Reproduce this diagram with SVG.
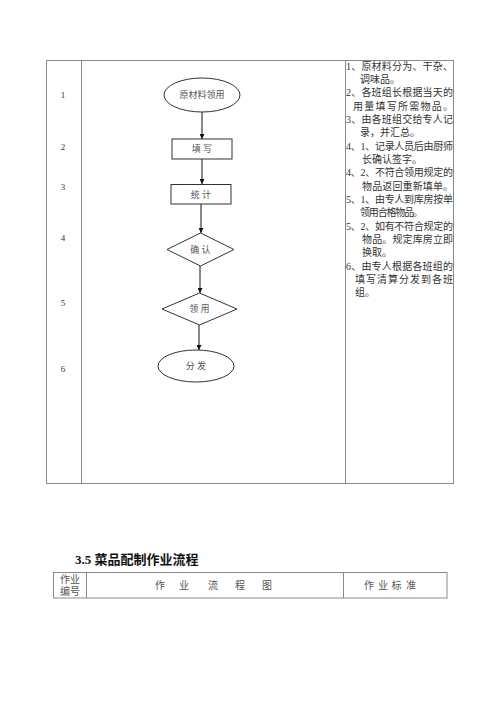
<svg xmlns="http://www.w3.org/2000/svg" width="500" height="707" viewBox="0 0 500 707">
<style>
.tb{fill:none;stroke:#8a8a8a;stroke-width:1}
.nd{fill:#fff;stroke:#333;stroke-width:1}
.nl{font-family:"Liberation Serif","Noto Sans CJK SC",serif;font-size:9px;fill:#555;text-anchor:middle}
.num{font-family:"Liberation Serif","Noto Sans CJK SC",serif;font-size:9px;fill:#333;text-anchor:middle}
.rt{font-family:"Liberation Serif","Noto Sans CJK SC",serif;font-size:10px;fill:#333}
.hd{font-family:"Liberation Serif","Noto Sans CJK SC",serif;font-size:10px;fill:#555;text-anchor:middle}
.ttl{font-family:"Liberation Serif","Noto Sans CJK SC",serif;font-size:13px;font-weight:bold;fill:#111}
.cn{stroke:#111;stroke-width:1;fill:none;marker-end:url(#ah)}
</style>
<defs>
<marker id="ah" viewBox="0 0 10 10" refX="10" refY="5" markerWidth="5" markerHeight="5" orient="auto" markerUnits="userSpaceOnUse">
<path d="M0,0 L10,5 L0,10 z" fill="#111"/>
</marker>
</defs>
<rect width="500" height="707" fill="#fff"/>
<g id="table1">
<rect class="tb" x="46.5" y="60.5" width="407" height="423"/>
<line class="tb" x1="81.5" y1="60.5" x2="81.5" y2="483.5"/>
<line class="tb" x1="345.5" y1="60.5" x2="345.5" y2="483.5"/>
<text class="num" x="63" y="98">1</text>
<text class="num" x="63" y="150">2</text>
<text class="num" x="63" y="190">3</text>
<text class="num" x="63" y="241">4</text>
<text class="num" x="63" y="306">5</text>
<text class="num" x="63" y="372">6</text>
</g>
<g id="connectors">
<line class="cn" x1="202" y1="112" x2="202" y2="139"/>
<line class="cn" x1="202" y1="159" x2="202" y2="184"/>
<line class="cn" x1="201" y1="204" x2="201" y2="233"/>
<line class="cn" x1="200" y1="266" x2="200" y2="293"/>
<line class="cn" x1="199" y1="325" x2="199" y2="350"/>
</g>
<g id="n1">
<ellipse class="nd" cx="202" cy="95" rx="38" ry="17"/>
<text class="nl" x="202" y="98">原材料领用</text>
</g>
<g id="n2">
<rect class="nd" x="172" y="139" width="60" height="20"/>
<text class="nl" x="202" y="152">填 写</text>
</g>
<g id="n3">
<rect class="nd" x="171" y="184.5" width="60" height="19.5"/>
<text class="nl" x="201" y="197.5">统 计</text>
</g>
<g id="n4">
<polygon class="nd" points="200.5,233 234,249.5 200.5,266 167,249.5"/>
<text class="nl" x="200.5" y="252.5">确 认</text>
</g>
<g id="n5">
<polygon class="nd" points="199.5,293 237,309 199.5,325 162,309"/>
<text class="nl" x="199.5" y="312">领 用</text>
</g>
<g id="n6">
<ellipse class="nd" cx="196" cy="366" rx="38" ry="16"/>
<text class="nl" x="196" y="369">分 发</text>
</g>
<g id="standards">
<text class="rt" x="346" y="69.5" textLength="107" lengthAdjust="spacing">1、原材料分为、干杂、</text>
<text class="rt" x="360" y="83">调味品。</text>
<text class="rt" x="346" y="96" textLength="107" lengthAdjust="spacing">2、各班组长根据当天的</text>
<text class="rt" x="353" y="109.5" textLength="100" lengthAdjust="spacing">用量填写所需物品。</text>
<text class="rt" x="346" y="123" textLength="107" lengthAdjust="spacing">3、由各班组交给专人记</text>
<text class="rt" x="360" y="136">录，并汇总。</text>
<text class="rt" x="346" y="149.5" textLength="107" lengthAdjust="spacing">4、1、记录人员后由厨师</text>
<text class="rt" x="362" y="163">长确认签字。</text>
<text class="rt" x="346" y="176" textLength="107" lengthAdjust="spacing">4、2、不符合领用规定的</text>
<text class="rt" x="362" y="189.5" textLength="91" lengthAdjust="spacing">物品返回重新填单。</text>
<text class="rt" x="346" y="203" textLength="107" lengthAdjust="spacing">5、1、由专人到库房按单</text>
<text class="rt" x="360" y="216" textLength="63" lengthAdjust="spacing">领用合格物品。</text>
<text class="rt" x="346" y="229.5" textLength="107" lengthAdjust="spacing">5、2、如有不符合规定的</text>
<text class="rt" x="362" y="243" textLength="91" lengthAdjust="spacing">物品。规定库房立即</text>
<text class="rt" x="362" y="256">换取。</text>
<text class="rt" x="346" y="269.5" textLength="107" lengthAdjust="spacing">6、由专人根据各班组的</text>
<text class="rt" x="355" y="283" textLength="98" lengthAdjust="spacing">填写清算分发到各班</text>
<text class="rt" x="355" y="296">组。</text>
</g>
<g id="title">
<text class="ttl" x="75" y="564">3.5 菜品配制作业流程</text>
</g>
<g id="table2">
<rect class="tb" x="53.5" y="572.5" width="393.5" height="25.5"/>
<line class="tb" x1="86.5" y1="572.5" x2="86.5" y2="598"/>
<line class="tb" x1="343.5" y1="572.5" x2="343.5" y2="598"/>
<text class="hd" x="70" y="582.5">作业</text>
<text class="hd" x="70" y="595">编号</text>
<text class="hd" x="160" y="589">作</text>
<text class="hd" x="184" y="589">业</text>
<text class="hd" x="213" y="589">流</text>
<text class="hd" x="240" y="589">程</text>
<text class="hd" x="267" y="589">图</text>
<text class="hd" x="369" y="589">作</text>
<text class="hd" x="383" y="589">业</text>
<text class="hd" x="396.5" y="589">标</text>
<text class="hd" x="411" y="589">准</text>
</g>
</svg>
